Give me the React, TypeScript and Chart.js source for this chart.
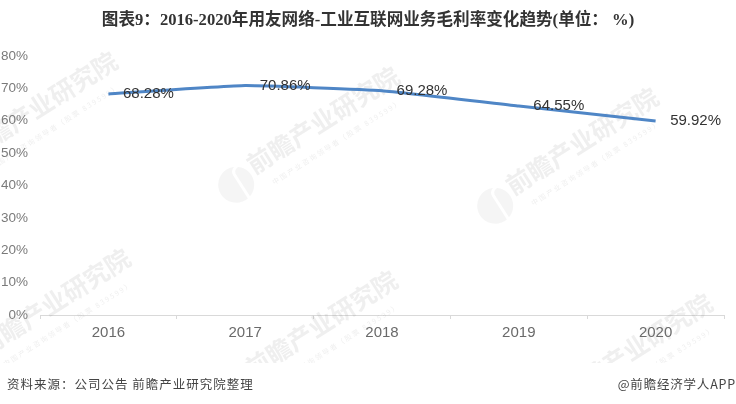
import React, { useEffect, useRef } from "react";
import { Chart, registerables } from "chart.js";

Chart.register(...registerables);

const years = ["2016", "2017", "2018", "2019", "2020"];
const margins = [68.28, 70.86, 69.28, 64.55, 59.92];
const marginLabels = ["68.28%", "70.86%", "69.28%", "64.55%", "59.92%"];

const titleText = "图表9：2016-2020年用友网络-工业互联网业务毛利率变化趋势(单位： %)";
const sourceText = "资料来源：公司公告 前瞻产业研究院整理";
const creditText = "@前瞻经济学人APP";
const markName = "前瞻产业研究院";
const markSub = "中国产业咨询领导者（股票 839599）";
const markSpots = [
  [41, 105],
  [323, 120],
  [582, 141],
  [54, 302],
  [321, 324],
  [636, 347],
];

const UI_FONT = '"Liberation Sans", "Noto Sans CJK SC", sans-serif';

const decorPlugin = {
  id: "decor",
  // watermark goes under the line
  beforeDatasetsDraw(chart: Chart) {
    const { ctx } = chart;
    ctx.save();
    // the footer band has no watermark
    ctx.beginPath();
    ctx.rect(0, 40, 736, 323);
    ctx.clip();
    ctx.textAlign = "center";
    ctx.textBaseline = "middle";
    markSpots.forEach(([x, y]) => {
      ctx.save();
      ctx.translate(x, y);
      ctx.rotate((-32.5 * Math.PI) / 180);
      ctx.fillStyle = "rgba(120,120,120,0.12)";
      ctx.font = `bold 25px "Noto Sans CJK SC"`;
      ctx.fillText(markName, 0, 0);
      ctx.fillStyle = "rgba(120,120,120,0.13)";
      ctx.font = `7px "Noto Sans CJK SC"`;
      (ctx as any).letterSpacing = "1.8px";
      ctx.fillText(markSub, 0, 26);
      (ctx as any).letterSpacing = "0px";
      // round logo left of the name, with the white cut through it
      ctx.beginPath();
      ctx.arc(-108, 8, 18, 0, Math.PI * 2);
      ctx.fillStyle = "rgba(120,120,120,0.07)";
      ctx.fill();
      ctx.strokeStyle = "#ffffff";
      ctx.lineWidth = 3;
      ctx.beginPath();
      ctx.moveTo(-104, 28);
      ctx.lineTo(-104, -2);
      ctx.quadraticCurveTo(-104, -8, -90, -8);
      ctx.stroke();
      ctx.restore();
    });
    ctx.restore();
  },
  afterDraw(chart: Chart) {
    const { ctx } = chart;
    const meta = chart.getDatasetMeta(0);
    ctx.save();
    ctx.textBaseline = "middle";

    // value labels, to the right of each point
    ctx.fillStyle = "#333333";
    ctx.font = `15px ${UI_FONT}`;
    ctx.textAlign = "center";
    meta.data.forEach((pt, i) => {
      ctx.fillText(marginLabels[i], pt.x + 40, pt.y);
    });

    ctx.fillStyle = "#333333";
    ctx.font = `bold 16.6px "Liberation Serif", "Noto Sans CJK SC"`;
    ctx.fillText(titleText, 368, 21);

    ctx.textAlign = "left";
    ctx.font = `12.5px "Noto Sans CJK SC"`;
    ctx.fillStyle = "#444444";
    (ctx as any).letterSpacing = "1px";
    ctx.fillText(sourceText, 7, 384);
    ctx.textAlign = "right";
    (ctx as any).letterSpacing = "0.8px";
    ctx.fillText(creditText, 736, 384);
    ctx.restore();
  },
};

export default function App() {
  const canvasRef = useRef<HTMLCanvasElement | null>(null);

  useEffect(() => {
    document.body.style.margin = "0";
    if (!canvasRef.current) return;

    const chart = new Chart(canvasRef.current, {
      type: "line",
      data: {
        labels: years,
        datasets: [
          {
            data: margins,
            borderColor: "#4f86c6",
            borderWidth: 3,
            pointRadius: 0,
            tension: 0.1,
            fill: false,
          },
        ],
      },
      options: {
        responsive: false,
        animation: false,
        devicePixelRatio: 1,
        layout: { padding: { top: 56, right: 12, bottom: 0, left: 0 } },
        plugins: {
          legend: { display: false },
          title: { display: false },
          tooltip: { enabled: false },
        },
        scales: {
          x: {
            offset: true,
            afterFit: (scale) => {
              scale.height = 89;
            },
            border: { color: "#d9d9d9" },
            grid: {
              offset: true,
              drawOnChartArea: false,
              color: "#d9d9d9",
              tickLength: 4,
            },
            ticks: {
              color: "#6a6a6a",
              padding: 5,
              maxRotation: 0,
              font: { family: UI_FONT, size: 15 },
            },
          },
          y: {
            min: 0,
            max: 80,
            afterFit: (scale) => {
              scale.width = 40;
            },
            border: { display: false },
            grid: { display: false },
            ticks: {
              stepSize: 10,
              color: "#7a7a7a",
              padding: 4,
              font: { family: UI_FONT, size: 13.5 },
              callback: (value) => `${value}%`,
            },
          },
        },
      },
      plugins: [decorPlugin],
    });

    return () => {
      chart.destroy();
    };
  }, []);

  return <canvas ref={canvasRef} width={736} height={404} style={{ display: "block" }} />;
}
